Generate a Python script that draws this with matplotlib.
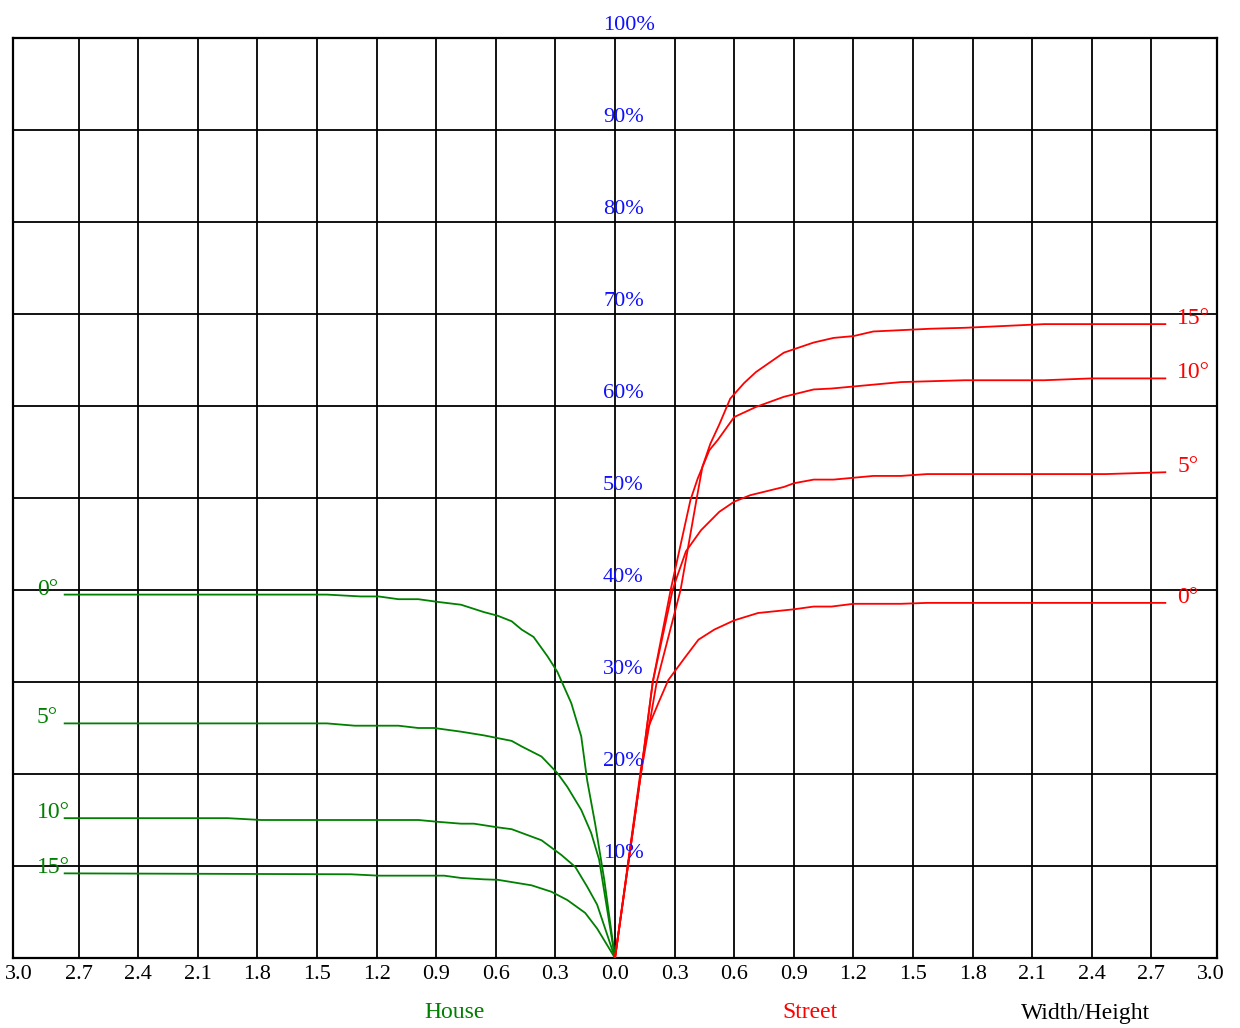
import matplotlib
matplotlib.use("Agg")
from matplotlib import pyplot as plt
import numpy as np

plt.rcParams["font.family"] = ["Liberation Serif", "DejaVu Serif"]

# House side (plotted at negative x, labels shown as absolute values)
house_0_x = [-2.77, -1.45, -1.28, -1.19, -1.09, -0.99, -0.89, -0.775, -0.66, -0.59, -0.52,
             -0.47, -0.41, -0.34, -0.29, -0.22, -0.17, -0.14, -0.10, -0.054, 0]
house_0_y = [39.5, 39.5, 39.3, 39.3, 39.0, 39.0, 38.7, 38.4, 37.6, 37.2, 36.6,
             35.7, 34.9, 32.8, 31.1, 27.7, 24.1, 19.3, 14.6, 8.5, 0]

house_5_x = [-2.77, -1.45, -1.31, -1.09, -0.99, -0.91, -0.775, -0.66, -0.59, -0.52, -0.47,
             -0.37, -0.29, -0.24, -0.17, -0.12, -0.08, 0]
house_5_y = [25.5, 25.5, 25.25, 25.25, 25.0, 25.0, 24.6, 24.2, 23.9, 23.6, 23.0,
             21.9, 20.1, 18.6, 16.1, 13.6, 10.7, 0]

house_10_x = [-2.77, -1.95, -1.78, -0.99, -0.89, -0.775, -0.71, -0.59, -0.52, -0.47,
              -0.37, -0.27, -0.20, -0.14, -0.09, 0]
house_10_y = [15.2, 15.2, 15.0, 15.0, 14.8, 14.6, 14.6, 14.2, 14.0, 13.6,
              12.8, 11.2, 9.9, 7.75, 5.8, 0]

house_15_x = [-2.77, -1.33, -1.19, -0.86, -0.775, -0.66, -0.59, -0.42, -0.32, -0.24,
              -0.15, -0.09, 0]
house_15_y = [9.2, 9.1, 8.95, 8.95, 8.7, 8.55, 8.5, 7.9, 7.2, 6.3, 4.9, 3.2, 0]

# Street side
street_0_x = [0, 0.13, 0.168, 0.218, 0.268, 0.35, 0.42, 0.50, 0.60, 0.72, 0.90, 1.0,
              1.09, 1.20, 1.44, 1.57, 2.77]
street_0_y = [0, 20.5, 25.1, 27.7, 30.2, 32.6, 34.6, 35.7, 36.7, 37.5, 37.9, 38.2,
              38.2, 38.5, 38.5, 38.6, 38.6]

street_5_x = [0, 0.13, 0.19, 0.29, 0.31, 0.357, 0.433, 0.525, 0.60, 0.68, 0.85, 0.90,
              1.0, 1.10, 1.30, 1.44, 1.57, 2.47, 2.77]
street_5_y = [0, 20.0, 30.0, 40.0, 41.3, 44.2, 46.5, 48.5, 49.6, 50.3, 51.2, 51.6,
              52.0, 52.0, 52.4, 52.4, 52.6, 52.6, 52.8]

street_10_x = [0, 0.13, 0.19, 0.28, 0.38, 0.416, 0.475, 0.517, 0.60, 0.68, 0.71, 0.85,
               1.0, 1.09, 1.29, 1.44, 1.76, 2.16, 2.40, 2.77]
street_10_y = [0, 20.0, 30.0, 40.0, 49.8, 52.1, 55.2, 56.3, 58.8, 59.6, 59.9, 61.0,
               61.8, 61.9, 62.3, 62.6, 62.8, 62.8, 63.0, 63.0]

street_15_x = [0, 0.13, 0.21, 0.33, 0.41, 0.44, 0.48, 0.525, 0.58, 0.65, 0.71, 0.85,
               1.0, 1.10, 1.20, 1.30, 1.59, 1.76, 2.16, 2.77]
street_15_y = [0, 20.0, 30.0, 40.0, 49.8, 53.4, 55.9, 58.0, 60.8, 62.5, 63.7, 65.8,
               66.9, 67.4, 67.6, 68.1, 68.4, 68.5, 68.9, 68.9]

angle_labels = ["0°", "5°", "10°", "15°"]
house_curves = [(house_0_x, house_0_y), (house_5_x, house_5_y),
                (house_10_x, house_10_y), (house_15_x, house_15_y)]
street_curves = [(street_0_x, street_0_y), (street_5_x, street_5_y),
                 (street_10_x, street_10_y), (street_15_x, street_15_y)]

x_ticks = np.round(np.arange(-3.0, 3.01, 0.3), 1)
y_levels = list(range(10, 101, 10))

fig = plt.figure(figsize=(12.4, 10.28), dpi=100)
ax = fig.add_axes([13 / 1240, 1 - 958 / 1028, 1204 / 1240, 920 / 1028])
ax.set_xlim(-3.03, 3.03)
ax.set_ylim(0, 100)

# grid
for xv in x_ticks[1:-1]:
    ax.axvline(xv, color="black", lw=1.3, zorder=1)
for yv in y_levels[:-1]:
    ax.axhline(yv, color="black", lw=1.3, zorder=1)
for s in ax.spines.values():
    s.set_linewidth(1.6)

for (xs, ys), lab in zip(house_curves, angle_labels):
    ax.plot(xs, ys, color="green", lw=1.3, zorder=3)
    ax.text(-2.91, ys[0] + 0.6, lab, color="green", fontsize=17, ha="left", va="center", zorder=4)

for (xs, ys), lab in zip(street_curves, angle_labels):
    ax.plot(xs, ys, color="red", lw=1.3, zorder=3)
    ax.text(2.83, ys[-1] + 0.6, lab, color="red", fontsize=17, ha="left", va="center", zorder=4)

# percentage labels along the centre line
for yv in y_levels:
    ax.text(-0.06, yv + 0.9, f"{yv}%", color="#1010ff", fontsize=16,
            ha="left", va="baseline", zorder=5, clip_on=False)

ax.set_xticks(x_ticks)
ax.set_xticklabels([f"{abs(v):.1f}" for v in x_ticks], fontsize=16)
ax.set_yticks([])
ax.tick_params(axis="x", length=0, pad=5)

fig.text(455 / 1240, 1 - 1013 / 1028, "House", color="green", fontsize=17, ha="center", va="center")
fig.text(810 / 1240, 1 - 1013 / 1028, "Street", color="red", fontsize=17, ha="center", va="center")
fig.text(1086 / 1240, 1 - 1013 / 1028, "Width/Height", color="black", fontsize=17, ha="center", va="center")

fig.savefig("out.png", dpi=100)
